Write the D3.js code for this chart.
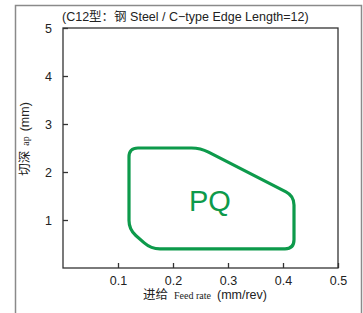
<!DOCTYPE html>
<html>
<head>
<meta charset="utf-8">
<script src="https://cdn.jsdelivr.net/npm/d3@7"></script>
<style>
  html, body { margin: 0; padding: 0; background: #fff; }
  svg { display: block; }
  .tick text { font-family: "Liberation Sans", Arial, sans-serif; font-size: 12.5px; fill: #222; }
</style>
</head>
<body>
<svg id="chart" width="363" height="313"></svg>
<script>
// chip breaker region (feed, depth of cut)
var feedVals = [0.12, 0.25, 0.42, 0.42, 0.16, 0.12],
    depthVals = [2.5, 2.5, 1.5, 0.4, 0.4, 0.8],
    xTicks = [0.1, 0.2, 0.3, 0.4, 0.5],
    yTicks = [1, 2, 3, 4, 5],
    regionLabel = "PQ",
    titleText = "(C12型：钢 Steel / C\u2212type Edge Length=12)";

var svg = d3.select("#chart"),
    green = "#0d9a4b",
    sans = "'Liberation Sans', Arial, sans-serif",
    cjk = "'Noto Sans CJK SC', sans-serif",
    serif = "'Liberation Serif', serif",
    x = d3.scaleLinear().domain([0, 0.5]).range([63, 338]),
    y = d3.scaleLinear().domain([0, 5]).range([268, 28]);

// outer frame (open at bottom)
svg.append("path")
    .attr("d", "M15.5,313V5.5H361.5V313")
    .attr("fill", "none")
    .attr("stroke", "#8a8a8a")
    .attr("stroke-width", 1.5);

// plot box
svg.append("rect")
    .attr("x", x(0)).attr("y", y(5))
    .attr("width", x(0.5) - x(0)).attr("height", y(0) - y(5))
    .attr("fill", "none")
    .attr("stroke", "#333")
    .attr("stroke-width", 1.3);

var xAxis = svg.append("g")
    .attr("transform", "translate(0," + y(0) + ")")
    .call(d3.axisBottom(x).tickValues(xTicks).tickFormat(d3.format(".1f")).tickSize(-5).tickPadding(8));
xAxis.select(".domain").remove();
xAxis.selectAll(".tick line").attr("stroke", "#333").attr("stroke-width", 1.3);

var yAxis = svg.append("g")
    .attr("transform", "translate(" + x(0) + ",0)")
    .call(d3.axisLeft(y).tickValues(yTicks).tickFormat(d3.format("d")).tickSize(-5).tickPadding(11));
yAxis.select(".domain").remove();
yAxis.selectAll(".tick line").attr("stroke", "#333").attr("stroke-width", 1.3);

// rounded polygon
var pts = feedVals.map(function(f, i) { return [x(f), y(depthVals[i])]; }),
    r = 9,
    n = pts.length,
    d = "";
pts.forEach(function(p, i) {
    var prev = pts[(i - 1 + n) % n],
        next = pts[(i + 1) % n],
        a = Math.hypot(prev[0] - p[0], prev[1] - p[1]),
        b = Math.hypot(next[0] - p[0], next[1] - p[1]),
        ra = Math.min(r, a / 2), rb = Math.min(r, b / 2),
        p1 = [p[0] + (prev[0] - p[0]) * ra / a, p[1] + (prev[1] - p[1]) * ra / a],
        p2 = [p[0] + (next[0] - p[0]) * rb / b, p[1] + (next[1] - p[1]) * rb / b];
    d += (i === 0 ? "M" : "L") + p1[0] + "," + p1[1] + "Q" + p[0] + "," + p[1] + " " + p2[0] + "," + p2[1];
});
d += "Z";
svg.append("path")
    .attr("d", d)
    .attr("fill", "none")
    .attr("stroke", green)
    .attr("stroke-width", 3.2)
    .attr("stroke-linejoin", "round");

svg.append("text")
    .attr("x", x(0.267)).attr("y", y(1.19))
    .attr("text-anchor", "middle")
    .attr("font-family", sans)
    .attr("font-size", 29)
    .attr("fill", green)
    .text(regionLabel);

// title
svg.append("text")
    .attr("x", 62).attr("y", 21)
    .attr("font-family", sans + ", 'Noto Sans CJK SC'")
    .attr("font-size", 12.5)
    .attr("fill", "#222")
    .text(titleText);

// mixed-font label: separate text pieces laid out one after another, centred
function mixedLabel(g, parts, gap) {
    var nodes = parts.map(function(p) {
        return g.append("text")
            .attr("font-family", p.font)
            .attr("font-size", p.size)
            .attr("fill", "#222")
            .text(p.text);
    });
    var widths = nodes.map(function(t) { return t.node().getComputedTextLength(); }),
        pos = -(d3.sum(widths) + gap * (nodes.length - 1)) / 2;
    nodes.forEach(function(t, i) {
        t.attr("x", pos);
        pos += widths[i] + gap;
    });
}

mixedLabel(svg.append("g").attr("transform", "translate(205,299)"), [
    {text: "进给", font: cjk, size: 12.5},
    {text: "Feed rate", font: serif, size: 10},
    {text: "(mm/rev)", font: sans, size: 12.5}
], 6);

mixedLabel(svg.append("g").attr("transform", "translate(29,139) rotate(-90)"), [
    {text: "切深", font: cjk, size: 12.5},
    {text: "ap", font: serif, size: 10},
    {text: "(mm)", font: sans, size: 12.5}
], 5);
</script>
</body>
</html>
